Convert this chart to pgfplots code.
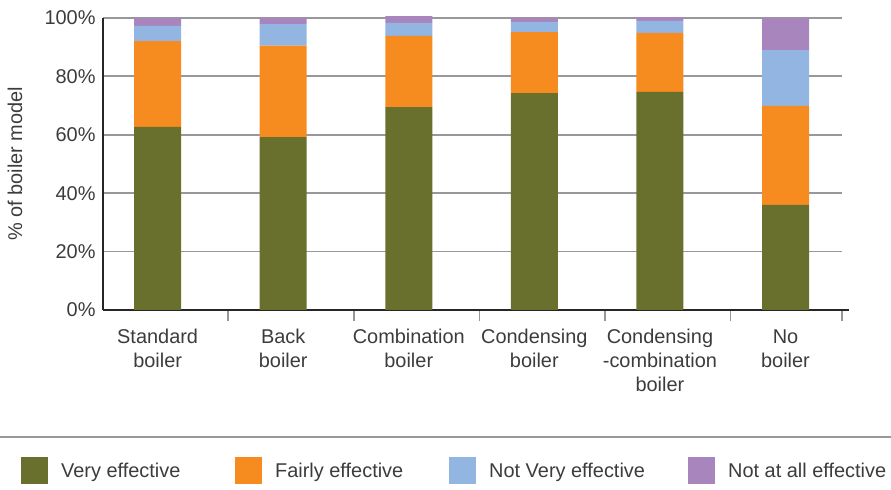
\documentclass[border=0pt]{standalone}
\usepackage{fontspec}
\setmainfont{Liberation Sans}
\usepackage{pgfplots}
\pgfplotsset{compat=1.18}
\definecolor{cgreen}{RGB}{105,112,46}
\definecolor{corange}{RGB}{246,139,31}
\definecolor{cblue}{RGB}{146,182,225}
\definecolor{cpurple}{RGB}{169,133,189}
\definecolor{cgrid}{RGB}{152,152,156}
\definecolor{ctext}{RGB}{60,60,60}
\pgfplotsset{sqlegend/.style={legend image code/.code={\fill[##1] (0bp,-13.5bp) rectangle (27bp,13.5bp);}}}
\begin{document}
\begin{tikzpicture}
\begin{axis}[
  scale only axis, width=739bp, height=292bp,
  ybar stacked, bar width=47bp,
  xmin=-0.435, xmax=5.45, ymin=0, ymax=100,
  clip=false,
  axis x line*=bottom, axis y line*=left,
  axis line style={-, line width=2bp, color=black!85},
  ytick={0,20,40,60,80,100},
  yticklabel={\pgfmathprintnumber{\tick}\%},
  /pgf/number format/assume math mode=true,
  ymajorgrids, grid style={cgrid, line width=1.8bp},
  major tick length=0pt,
  xtick={0,1,2,3,4,5},
  xticklabels={Standard\\boiler, Back\\boiler, Combination\\boiler, Condensing\\boiler, Condensing\\-combination\\boiler, No\\boiler},
  every tick label/.append style={font=\fontsize{20}{24}\selectfont, text=ctext},
  xticklabel style={align=center, yshift=-16bp},
  yticklabel style={xshift=-4bp},
  extra x ticks={0.562,1.562,2.562,3.562,4.562,5.45},
  extra x tick labels={},
  extra x tick style={major tick length=11bp, tick align=outside, tick style={cgrid, line width=1.5bp}, grid=none},
  ylabel={\% of boiler model},
  ylabel style={at={(axis description cs:-0.119,0.5)}, anchor=center, font=\fontsize{20}{24}\selectfont, text=ctext},
  legend columns=4,
  legend style={at={(axis description cs:-0.111,-0.551)}, anchor=west, draw=none, fill=none, inner sep=0pt,
    font=\fontsize{20}{24}\selectfont, text=ctext,
    nodes={inner sep=0pt},
    /tikz/every odd column/.append style={column sep=13bp}},
]
\addplot[fill=cgreen, draw=none, sqlegend] coordinates {(0,62.7) (1,59.2) (2,69.5) (3,74.3) (4,74.7) (5,36.0)};
\addlegendentry{\makebox[174bp][l]{Very effective}}
\addplot[fill=corange, draw=none, sqlegend] coordinates {(0,29.4) (1,31.3) (2,24.4) (3,20.9) (4,20.2) (5,33.9)};
\addlegendentry{\makebox[174bp][l]{Fairly effective}}
\addplot[fill=cblue, draw=none, sqlegend] coordinates {(0,5.2) (1,7.4) (2,4.4) (3,3.4) (4,4.1) (5,19.1)};
\addlegendentry{\makebox[199bp][l]{Not Very effective}}
\addplot[fill=cpurple, draw=none, sqlegend] coordinates {(0,2.7) (1,2.1) (2,2.3) (3,1.4) (4,1.3) (5,11.0)};
\addlegendentry{Not at all effective}
\draw[line width=2bp, black!85] (rel axis cs:0,0) -- (rel axis cs:1.01,0);
\draw[cgrid, line width=2bp] (axis description cs:-0.1394,-0.435) -- (axis description cs:1.0663,-0.435);
\path[use as bounding box] (axis description cs:-0.1394,1.0616) rectangle (axis description cs:1.0663,-0.6164);
\end{axis}
\end{tikzpicture}
\end{document}
